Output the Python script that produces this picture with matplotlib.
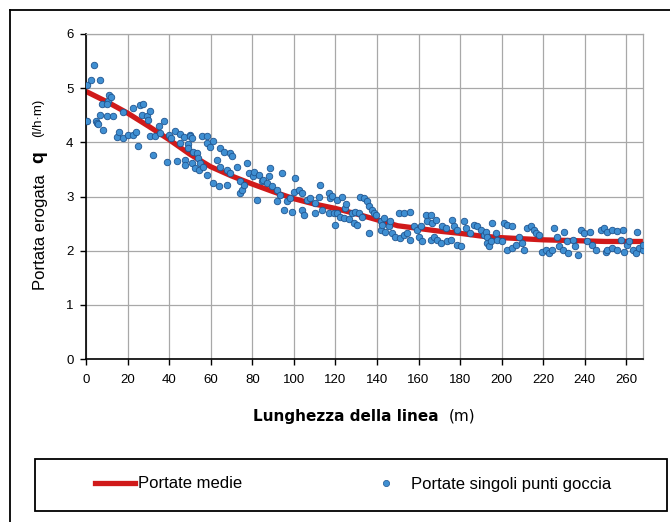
import numpy as np
import matplotlib
matplotlib.use("Agg")
import matplotlib.pyplot as plt
from matplotlib.lines import Line2D
from matplotlib.patches import Rectangle

# portate singoli punti goccia (distanza m, portata l/h*m)
dist_punti = [0.0, 0.6, 2.2, 3.9, 6.7, 0.6, 4.8, 5.1, 5.9, 8.3, 7.5, 10.0, 10.8, 11.2,
              11.9, 6.7, 10.0, 13.2, 14.8, 16.0, 18.0, 18.0, 20.4, 22.5, 22.8, 24.1,
              25.2, 26.0, 26.8, 27.6, 29.3, 30.0, 30.8, 30.8, 32.1, 33.3, 34.9, 35.7,
              37.3, 39.2, 39.7, 40.8, 42.9, 43.7, 45.3, 45.3, 47.2, 47.7, 47.7, 49.3,
              49.3, 50.0, 50.1, 50.9, 51.0, 51.7, 52.5, 53.3, 54.1, 54.6, 54.9, 55.8,
              56.5, 58.1, 58.2, 58.2, 59.8, 61.3, 61.3, 63.0, 63.8, 64.6, 64.6, 66.2,
              67.8, 67.8, 69.4, 69.4, 70.2, 72.6, 74.2, 74.2, 75.0, 75.8, 77.4, 78.2,
              80.5, 80.6, 82.3, 83.0, 84.5, 85.4, 87.1, 87.9, 88.7, 89.5, 91.9, 91.9,
              93.5, 94.3, 95.1, 96.7, 98.3, 99.1, 99.9, 100.7, 102.3, 103.9, 103.9,
              104.7, 106.3, 107.9, 110.4, 110.4, 112.0, 112.8, 113.6, 116.8, 116.8,
              117.6, 118.4, 119.2, 120.0, 120.8, 120.8, 122.4, 123.2, 124.3, 124.8,
              125.3, 126.4, 128.0, 128.8, 129.6, 130.5, 131.2, 132.0, 132.9, 133.6,
              135.3, 136.0, 136.0, 137.7, 138.5, 139.3, 141.7, 141.7, 142.5, 143.3,
              144.1, 145.7, 146.5, 147.3, 148.9, 150.5, 151.3, 152.9, 152.9, 154.5,
              156.1, 156.1, 157.7, 159.3, 160.2, 161.0, 161.8, 163.4, 164.2, 165.8,
              165.8, 166.6, 167.4, 168.2, 169.0, 170.6, 171.4, 173.0, 173.8, 175.4,
              176.2, 177.0, 178.6, 178.6, 180.2, 181.8, 182.7, 185.0, 186.6, 188.3,
              189.9, 191.5, 192.3, 193.1, 193.1, 193.9, 194.7, 195.5, 197.1, 197.9,
              200.3, 201.1, 202.7, 202.7, 205.1, 205.1, 206.7, 208.3, 209.9, 210.7,
              212.4, 214.0, 215.6, 216.4, 218.0, 219.6, 221.2, 222.8, 224.4, 225.2,
              226.5, 227.6, 229.7, 230.0, 231.3, 232.0, 234.1, 235.2, 236.8, 238.1,
              239.7, 241.0, 242.6, 243.7, 245.3, 247.7, 249.3, 250.1, 250.9, 250.9,
              253.3, 253.3, 255.7, 255.7, 257.3, 258.2, 259.0, 260.5, 261.3, 263.0,
              264.6, 265.3, 266.2, 267.8, 268.0]
portata_punti = [4.40, 5.06, 5.16, 5.42, 5.16, 4.39, 4.39, 4.36, 4.34, 4.23, 4.71, 4.49,
                 4.76, 4.88, 4.83, 4.51, 4.70, 4.49, 4.10, 4.19, 4.56, 4.08, 4.14, 4.63,
                 4.14, 4.19, 3.94, 4.69, 4.50, 4.71, 4.48, 4.42, 4.57, 4.11, 3.77, 4.12,
                 4.31, 4.17, 4.39, 3.64, 4.14, 4.08, 4.21, 3.65, 4.15, 3.99, 4.09, 3.68,
                 3.59, 3.97, 3.89, 4.14, 4.11, 3.62, 4.08, 3.83, 3.52, 3.80, 3.71, 3.49,
                 3.62, 4.11, 3.55, 3.99, 4.11, 3.40, 3.92, 4.02, 3.25, 3.68, 3.19, 3.89,
                 3.55, 3.83, 3.22, 3.49, 3.80, 3.43, 3.74, 3.55, 3.28, 3.06, 3.12, 3.22,
                 3.62, 3.43, 3.37, 3.46, 2.94, 3.40, 3.28, 3.31, 3.25, 3.37, 3.52, 3.19,
                 3.12, 2.91, 3.03, 3.43, 2.75, 2.91, 2.97, 2.72, 3.09, 3.34, 3.12, 3.06,
                 2.75, 2.66, 2.94, 2.97, 2.88, 2.69, 3.00, 3.22, 2.75, 3.06, 2.69, 2.97,
                 3.01, 2.69, 2.48, 2.93, 2.69, 2.63, 3.00, 2.60, 2.79, 2.87, 2.58, 2.69,
                 2.51, 2.72, 2.48, 2.69, 3.00, 2.63, 2.97, 2.91, 2.82, 2.32, 2.75, 2.69,
                 2.66, 2.54, 2.38, 2.48, 2.60, 2.35, 2.45, 2.54, 2.32, 2.26, 2.69, 2.23,
                 2.29, 2.69, 2.32, 2.20, 2.72, 2.45, 2.38, 2.26, 2.45, 2.17, 2.66, 2.54,
                 2.66, 2.20, 2.51, 2.26, 2.57, 2.20, 2.14, 2.45, 2.42, 2.17, 2.20, 2.57,
                 2.45, 2.38, 2.11, 2.08, 2.54, 2.42, 2.32, 2.48, 2.45, 2.38, 2.29, 2.35,
                 2.14, 2.26, 2.08, 2.17, 2.52, 2.32, 2.20, 2.17, 2.51, 2.48, 2.01, 2.45,
                 2.05, 2.11, 2.26, 2.14, 2.01, 2.42, 2.45, 2.38, 2.32, 2.29, 1.98, 2.01,
                 1.95, 2.01, 2.42, 2.26, 2.08, 2.01, 2.35, 2.17, 1.95, 2.20, 2.08, 1.92,
                 2.38, 2.32, 2.17, 2.35, 2.11, 2.01, 2.38, 2.42, 1.98, 2.35, 2.01, 2.38,
                 2.05, 2.37, 2.01, 2.20, 2.38, 1.98, 2.11, 2.17, 2.01, 1.95, 2.35, 2.05,
                 2.01, 2.11]

# portate medie (curva rossa)
dist_medie = [0, 10, 20, 30, 40, 50, 60, 70, 80, 90, 100, 110, 120, 130, 140,
              150, 160, 170, 180, 190, 200, 210, 220, 230, 240, 250, 260, 268]
portata_medie = [4.94, 4.75, 4.54, 4.30, 4.05, 3.78, 3.55, 3.38, 3.23, 3.09, 2.96,
                 2.86, 2.78, 2.68, 2.57, 2.46, 2.41, 2.36, 2.32, 2.27, 2.24, 2.22,
                 2.20, 2.19, 2.18, 2.17, 2.17, 2.17]

x_ticks = list(range(0, 261, 20))
y_ticks = [0, 1, 2, 3, 4, 5, 6]

fig = plt.figure(figsize=(6.7, 5.22), dpi=100)
ax = fig.add_axes([86/670, 1-359/522, 557/670, 325/522])

ax.plot(dist_medie, portata_medie, color='#d01a1a', lw=3.8, solid_capstyle='butt', zorder=2)
ax.scatter(dist_punti, portata_punti, s=22, facecolor='#3f8fd2', edgecolor='#1f5590',
           linewidth=0.6, zorder=3)

ax.set_xlim(0, 268)
ax.set_ylim(0, 6)
ax.set_xticks(x_ticks)
ax.set_yticks(y_ticks)
ax.grid(True, color='#a8a8a8', lw=0.9)
ax.set_axisbelow(True)
for s in ['top', 'right']:
    ax.spines[s].set_color('#a8a8a8')
    ax.spines[s].set_linewidth(0.9)
for s in ['left', 'bottom']:
    ax.spines[s].set_color('black')
    ax.spines[s].set_linewidth(1.2)
ax.tick_params(direction='out', length=4, width=1, color='black',
               labelsize=9.5, labelfontfamily='Liberation Sans')
ax.tick_params(axis='x', pad=7)
ax.tick_params(axis='y', pad=5)

# etichetta asse x (parte in grassetto + unita)
fig.text(253/670, 1-416/522, 'Lunghezza della linea', fontsize=11, fontweight='bold',
         family='DejaVu Sans', ha='left', va='center')
fig.text(449/670, 1-416/522, '(m)', fontsize=11, family='DejaVu Sans', ha='left', va='center')

# etichetta asse y
fig.text(40/670, 1-232/522, 'Portata erogata', fontsize=12, family='Liberation Sans',
         rotation=90, ha='center', va='center')
fig.text(39/670, 1-157/522, 'q', fontsize=14, fontweight='bold', family='Liberation Sans',
         rotation=90, ha='center', va='center')
fig.text(38/670, 1-118/522, '(l/h\u00b7m)', fontsize=9.5, family='Liberation Sans',
         rotation=90, ha='center', va='center')

# cornice esterna
fig.add_artist(Line2D([10/670, 1], [1-10/522, 1-10/522], color='black', lw=1.3))
fig.add_artist(Line2D([10/670, 10/670], [0, 1-10/522], color='black', lw=1.3))

# legenda
fig.add_artist(Rectangle((35/670, 1-511/522), 632/670, 52/522, transform=fig.transFigure,
                         fill=False, edgecolor='black', lw=1.3))
h1 = Line2D([], [], color='#d01a1a', lw=3.8)
h2 = Line2D([], [], ls='', marker='o', markersize=4.5, markerfacecolor='#3f8fd2',
            markeredgecolor='#1f5590', markeredgewidth=0.5)
leg_font = {'family': 'Liberation Sans', 'size': 12}
fig.legend([h1], ['Portate medie'], loc='center left', bbox_to_anchor=(95/670, 1-484/522),
           frameon=False, prop=leg_font, handlelength=2.4, handletextpad=0.15,
           borderpad=0, borderaxespad=0)
fig.legend([h2], ['Portate singoli punti goccia'], loc='center left',
           bbox_to_anchor=(376/670, 1-484/522), frameon=False, prop=leg_font,
           handlelength=1.2, handletextpad=0.9, borderpad=0, borderaxespad=0)

fig.savefig('out.png', dpi=100)
